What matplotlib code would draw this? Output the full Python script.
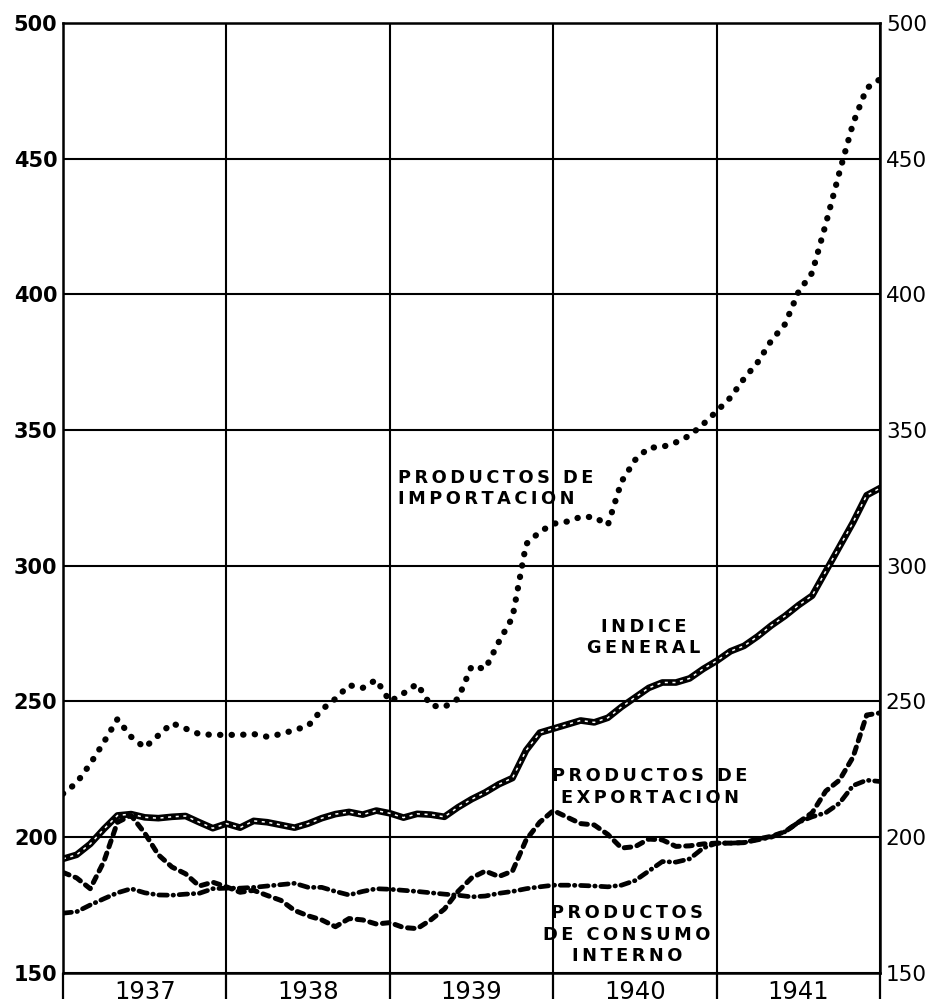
import numpy as np
import matplotlib
matplotlib.use("Agg")
from matplotlib import pyplot as plt

# monthly values, Jan 1937 .. Jan 1942 (61 points)
importacion = [216, 220, 227, 235, 243.5, 237, 233, 237.5, 242, 240,
               238, 237.7, 237.7, 237.7, 238, 237, 238, 239.5, 241, 247,
               251, 256, 255, 258, 250, 253, 256.5, 248.5, 248, 251,
               263, 262, 272, 281, 308, 312.5, 315.5, 316.3, 318, 318,
               315, 331, 339, 343.5, 343.8, 345.5, 348, 352.2, 357, 362,
               369, 375, 383, 389, 401, 408, 426, 445, 463, 476, 479.4]
indice_general = [192, 193.5, 197.5, 203, 208, 208.5, 207.3, 207, 207.5, 207.8,
                  205.5, 203.3, 205, 203.5, 206, 205.5, 204.5, 203.5, 205, 207,
                  208.5, 209.3, 208.3, 209.8, 208.8, 207.2, 208.6, 208.3, 207.5, 211,
                  214, 216.5, 219.5, 221.8, 232, 238.5, 240, 241.5, 243, 242.3,
                  244, 248, 251.5, 255, 257, 257, 258.5, 262, 265, 268.5,
                  270.5, 274, 278, 281.5, 285.5, 289, 298, 307, 316, 326, 328.7]
exportacion = [187, 185, 181, 191, 205.5, 208, 201.5, 193.5, 189, 186.5,
               182, 183.4, 181.7, 179.7, 180.4, 178.5, 176.7, 173, 171, 169.5,
               167, 170, 169.5, 168, 168.5, 166.7, 166.3, 169.5, 173.5, 180,
               185, 187.5, 185.5, 187.5, 199, 205.5, 209.8, 207.4, 205, 204.5,
               201, 196, 196.5, 199.3, 199, 196.6, 196.8, 197.5, 197.8, 197.8,
               198, 199.3, 200.3, 202, 205.5, 209, 217, 221, 229.5, 245, 245.8]
consumo_interno = [172, 172.5, 175, 177.3, 179.5, 181, 179.5, 178.7, 178.6, 179,
                   179.3, 181, 181.2, 181.2, 181.5, 182, 182.5, 183, 181.5, 181.5,
                   180, 178.7, 180, 181, 180.8, 180.4, 180, 179.5, 179, 178.6,
                   178, 178.3, 179.3, 180, 181, 181.7, 182.3, 182.3, 182.2, 182,
                   181.7, 182.3, 184, 187.5, 191, 190.8, 192, 196, 197.8, 197.8,
                   198, 199, 200, 202, 205.5, 207.5, 209, 212.5, 219, 221, 220.5]
years = [1937, 1938, 1939, 1940, 1941]
y_ticks = [150, 200, 250, 300, 350, 400, 450, 500]

fecha = 1937 + np.arange(len(importacion)) / 12.0


def spaced(s):
    # wide lettering like the original print
    return "\n".join("\u2009".join(line) for line in s.split("\n"))


fig = plt.figure(figsize=(9.33, 10.05), dpi=100)
ax = fig.add_axes([0.0675, 0.032, 0.876, 0.945])

ax.plot(fecha, importacion, color="black", lw=4.5, linestyle=(0, (0.05, 1.8)),
        dash_capstyle="round")
ax.plot(fecha, indice_general, color="black", lw=4.8, solid_capstyle="round")
ax.plot(fecha, indice_general, color="white", lw=1.1, linestyle=(0, (2, 3)))
ax.plot(fecha, exportacion, color="black", lw=3.6, linestyle=(0, (1.3, 1.3)),
        dash_capstyle="round")
ax.plot(fecha, consumo_interno, color="black", lw=3.4,
        linestyle=(0, (1.8, 1.2, 0.1, 1.2)), dash_capstyle="round")

ax.set_xlim(1937, 1942)
ax.set_ylim(150, 500)
ax.set_yticks(y_ticks)
ax.set_xticks([y for y in years] + [1942])
ax.set_xticklabels([])
ax.set_xticks([y + 0.5 for y in years], minor=True)
ax.set_xticklabels([str(y) for y in years], minor=True)
ax.tick_params(axis="x", which="major", length=19, width=1.6, direction="out")
ax.tick_params(axis="x", which="minor", length=0, pad=5, labelsize=17.5)
ax.tick_params(axis="y", which="both", length=0, pad=4, labelsize=15.5,
               labelleft=True, labelright=True)
for t in ax.yaxis.get_major_ticks():
    t.label1.set_fontweight("bold")
    t.label1.set_fontsize(15)

ax.grid(True, which="major", color="black", lw=1.5)
for s in ax.spines.values():
    s.set_linewidth(1.8)

txt = dict(fontsize=12.8, fontweight="bold", color="black", linespacing=1.25)
ax.text(1939.05, 328.5, spaced("PRODUCTOS DE\nIMPORTACION"), ha="left", va="center", **txt)
ax.text(1940.55, 273.5, spaced("INDICE\nGENERAL"), ha="center", va="center", **txt)
ax.text(1940.59, 218.5, spaced("PRODUCTOS DE\nEXPORTACION"), ha="center", va="center", **txt)
ax.text(1940.45, 164, spaced("PRODUCTOS\nDE CONSUMO\nINTERNO"), ha="center", va="center", **txt)

fig.savefig("out.png", dpi=100)
